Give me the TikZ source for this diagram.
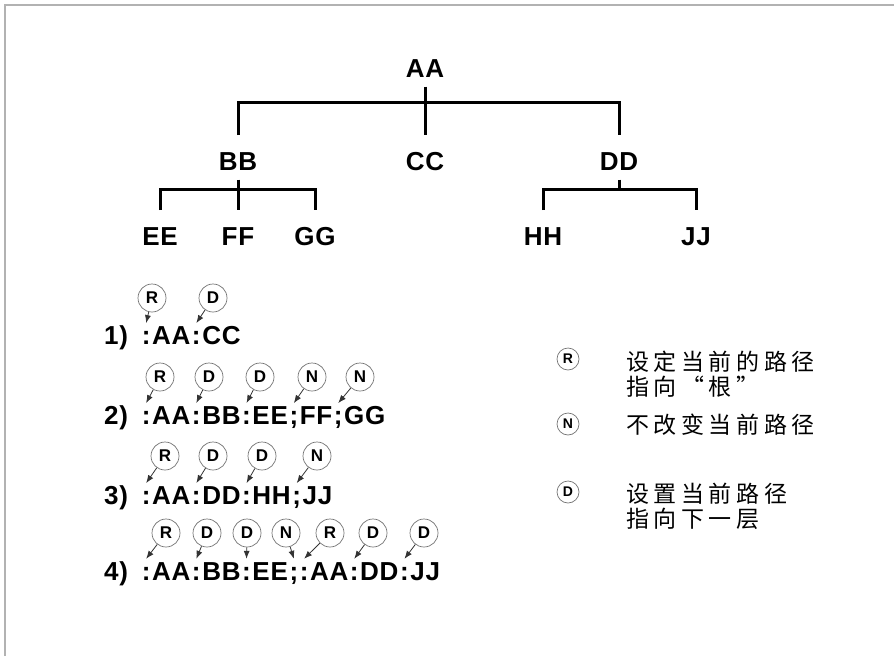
\documentclass[tikz,border=0pt]{standalone}
\usepackage{fontspec}
\usepackage{tikz}
\usetikzlibrary{positioning, arrows.meta}
\newfontfamily\tokfont{Liberation Sans}[LetterSpace=3]
\newfontfamily\tagfont{Liberation Sans}
\newfontfamily\cjkfont{Noto Sans CJK SC}[LetterSpace=20]

\begin{document}
\begin{tikzpicture}[
    x=1pt, y=-1pt,
    lbl/.style={font=\tokfont\bfseries\fontsize{26}{26}\selectfont, inner xsep=0pt, inner ysep=9pt,
                text height=26pt, text depth=0pt},
    tok/.style={font=\tokfont\bfseries\fontsize{26}{26}\selectfont, inner xsep=0.6pt, inner ysep=0pt,
                text height=21pt, text depth=5pt},
    tag/.style={circle, draw=black!55, line width=0.7pt, minimum size=28pt, inner sep=0pt,
                font=\tagfont\bfseries\fontsize{17}{17}\selectfont},
    key/.style={tag, minimum size=22pt, font=\tagfont\bfseries\fontsize{14}{14}\selectfont},
    note/.style={anchor=west, align=left, inner sep=0pt, font=\cjkfont\fontsize{23}{25}\selectfont},
    branch/.style={line width=3pt},
    ptr/.style={-{Latex[length=8pt, width=6pt]}, line width=0.8pt, black!80}
  ]
  \useasboundingbox (0,0) rectangle (894,656);
  \draw[black!30, line width=2pt] (5,656) -- (5,5) -- (894,5);

  % tree
  \node[lbl] (aa) at (425,64.3) {AA};
  \node[lbl] (bb) at (238,157.3) {BB};
  \node[lbl] (cc) at (425,157.3) {CC};
  \node[lbl] (dd) at (619,157.3) {DD};
  \node[lbl] (ee) at (160,232.3) {EE};
  \node[lbl] (ff) at (238,232.3) {FF};
  \node[lbl] (gg) at (315,232.3) {GG};
  \node[lbl] (hh) at (543,232.3) {HH};
  \node[lbl] (jj) at (696,232.3) {JJ};
  \coordinate (aabar) at (425,102);
  \coordinate (bbbar) at (238,189);
  \coordinate (ddbar) at (619,189);
  \draw[branch] (aa.south) -- (cc.north);
  \draw[branch] (bb.north) |- (aabar) -| (dd.north);
  \draw[branch] (bb.south) -- (ff.north);
  \draw[branch] (ee.north) |- (bbbar) -| (gg.north);
  \draw[branch] (dd.south) -- (ddbar);
  \draw[branch] (hh.north) |- (ddbar) -| (jj.north);

  % path examples
  \node[tok] (n1) at (116,336.3) {1)};
  \coordinate (r1-0) at (141,336.3);
  \foreach \t [count=\i, remember=\i as \j (initially 0)] in {:,AA,:,CC}
    \node[tok, right=0pt of r1-\j] (r1-\i) {\t};
  \foreach \k/\x/\n [count=\i] in {R/152/1, D/213/3} {
    \node[tag] (t1-\i) at (\x,298) {\k};
    \draw[ptr] (t1-\i) -- (r1-\n.north);
  }

  \node[tok] (n2) at (116,416.3) {2)};
  \coordinate (r2-0) at (141,416.3);
  \foreach \t [count=\i, remember=\i as \j (initially 0)] in {:,AA,:,BB,:,EE,;,FF,;,GG}
    \node[tok, right=0pt of r2-\j] (r2-\i) {\t};
  \foreach \k/\x/\n [count=\i] in {R/160/1, D/209/3, D/260/5, N/312/7, N/360/9} {
    \node[tag] (t2-\i) at (\x,377) {\k};
    \draw[ptr] (t2-\i) -- (r2-\n.north);
  }

  \node[tok] (n3) at (116,496.3) {3)};
  \coordinate (r3-0) at (141,496.3);
  \foreach \t [count=\i, remember=\i as \j (initially 0)] in {:,AA,:,DD,:,HH,;,JJ}
    \node[tok, right=0pt of r3-\j] (r3-\i) {\t};
  \foreach \k/\x/\n [count=\i] in {R/165/1, D/213/3, D/262/5, N/317/7} {
    \node[tag] (t3-\i) at (\x,456) {\k};
    \draw[ptr] (t3-\i) -- (r3-\n.north);
  }

  \node[tok] (n4) at (116,572) {4)};
  \coordinate (r4-0) at (141,572);
  \foreach \t [count=\i, remember=\i as \j (initially 0)] in {:,AA,:,BB,:,EE,;,:,AA,:,DD,:,JJ}
    \node[tok, right=0pt of r4-\j] (r4-\i) {\t};
  \foreach \k/\x/\n [count=\i] in {R/166/1, D/207/3, D/247/5, N/286/7, R/330/8, D/373/10, D/424/12} {
    \node[tag] (t4-\i) at (\x,533) {\k};
    \draw[ptr] (t4-\i) -- (r4-\n.north);
  }

  % legend
  \node[key] (kr) at (568,359) {R};
  \node[note] (tr) at (626,374) {设定当前的路径\\指向“根”};
  \node[key] (kn) at (568,424) {N};
  \node[note] (tn) at (626,425) {不改变当前路径};
  \node[key] (kd) at (568,492) {D};
  \node[note] (td) at (626,506) {设置当前路径\\指向下一层};
\end{tikzpicture}
\end{document}
